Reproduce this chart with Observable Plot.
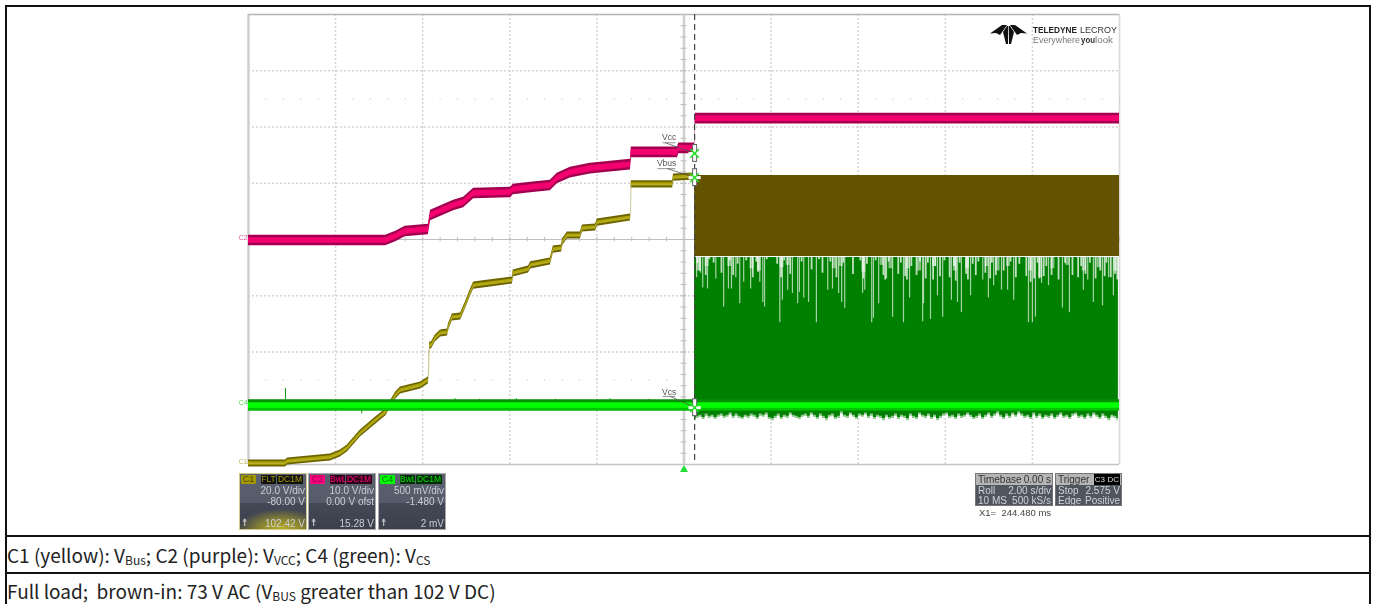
<!DOCTYPE html>
<html><head><meta charset="utf-8">
<script src="https://cdn.jsdelivr.net/npm/d3@7"></script>
<script src="https://cdn.jsdelivr.net/npm/@observablehq/plot@0.6"></script>
<style>
html,body{margin:0;padding:0;background:#fff}
#page{position:relative;width:1375px;height:604px;overflow:hidden;background:#fff}
.line{position:absolute;background:#111}
#chart{position:absolute;left:0;top:0;filter:blur(.45px)}
#chart svg{display:block;overflow:visible;background:transparent}
.cap{position:absolute;left:7px;font:19px "Noto Sans CJK SC","Noto Sans",sans-serif;color:#222;white-space:pre;line-height:20px}
.cap sub{font-size:12px;display:inline-block;line-height:12px;height:12px;vertical-align:-2px;overflow:visible}
.panel{position:absolute;box-sizing:border-box;font:10px "Liberation Sans",Arial,sans-serif;color:#c9ced6;filter:blur(.4px);overflow:hidden}
.ch{width:68px;height:57px;top:473px;background:linear-gradient(#5c6170 0,#565b6a 52%,#444957 53%,#3b404d 100%);border:1px solid #9a9a9a}
.ch .v{position:absolute;right:1px;white-space:nowrap}
.badge{position:absolute;top:1px;height:9px;line-height:9px;font-size:8.5px;text-align:center;border-radius:1px}
.tb{height:33px;top:473px;background:#50555f;border:1px solid #777;color:#cfd3d8}
.tb .h{position:absolute;left:0;right:0;top:0;height:11px;background:#b5b5b5;color:#333}
.tb span{position:absolute;white-space:nowrap;line-height:11px}
#x1{position:absolute;left:979px;top:507px;font:9.5px "Liberation Sans",Arial,sans-serif;color:#444;white-space:pre;filter:blur(.3px)}
#logo{position:absolute;left:985px;top:20px;filter:blur(.35px)}
</style></head><body><div id="page">
<div id="chart"></div>
<div id="panels"></div>
<div id="x1"></div>
<svg id="logo" width="140" height="30" viewBox="985 20 140 30">
<path fill="#111" d="M990 33.5L1002 25L1007 25L1002.5 31.5L1000 35L996 33Z"/>
<path fill="#111" d="M1027 33.5L1015 25L1010 25L1014.5 31.5L1017 35L1021 33Z"/>
<path fill="#111" d="M1003 32L1007 26L1008.2 26L1008 44L1006 44Z"/>
<path fill="#111" d="M1014 32L1010 26L1008.8 26L1009 44L1011 44Z"/>
<text x="1033" y="32.5" textLength="44" lengthAdjust="spacingAndGlyphs" font-family="Liberation Sans" font-weight="bold" font-size="9.4" fill="#222">TELEDYNE</text>
<text x="1080" y="32.5" textLength="37" lengthAdjust="spacingAndGlyphs" font-family="Liberation Sans" font-size="9.4" fill="#333">LECROY</text>
<text x="1033" y="43" textLength="47" lengthAdjust="spacingAndGlyphs" font-family="Liberation Sans" font-size="8.5" fill="#777">Everywhere</text>
<text x="1081" y="43" textLength="14" lengthAdjust="spacingAndGlyphs" font-family="Liberation Sans" font-weight="bold" font-size="8.5" fill="#333">you</text>
<text x="1095" y="43" textLength="18" lengthAdjust="spacingAndGlyphs" font-family="Liberation Sans" font-size="8.5" fill="#777">look</text>
</svg>
<div class="line" style="left:5px;top:5px;width:1365px;height:1.5px"></div>
<div class="line" style="left:5px;top:5px;width:1.5px;height:599px"></div>
<div class="line" style="left:1369px;top:5px;width:1.5px;height:599px"></div>
<div class="line" style="left:5px;top:535px;width:1365px;height:1.5px"></div>
<div class="line" style="left:5px;top:572px;width:1365px;height:1.5px"></div>
<div class="cap" style="top:545px">C1 (yellow): V<sub>Bus</sub>; C2 (purple): V<sub>VCC</sub>; C4 (green): V<sub>CS</sub></div>
<div class="cap" style="top:581px">Full load;&nbsp; brown-in: 73 V AC (V<sub>BUS</sub> greater than 102 V DC)</div>
</div>
<script>
// Time in seconds (2 s/div, 10 divisions); voltages per channel
const cursorT = 10.244;
const c1T = [0,0.85,0.90,1.88,2.11,2.27,2.57,2.92,3.15,3.38,3.49,3.95,4.13,4.16,4.20,4.29,4.41,4.57,4.59,4.68,4.87,4.91,4.98,5.10,5.17,5.56,6.06,6.08,6.43,6.48,6.93,7.00,7.19,7.21,7.32,7.62,7.67,7.97,8.01,8.77,8.79,9.74,9.76,10.24];
const c1V = [0.35,0.35,1.06,2.48,3.9,5.68,11.0,15.6,18.5,24.5,26.3,28.1,29.9,42.3,42.3,44.8,46.6,46.9,48.7,52.3,52.6,54.0,56.5,61.2,63.6,64.4,65.4,67.9,69.3,70.8,72.2,76.4,76.8,78.9,81.4,81.4,83.9,84.3,86.0,87.8,99.6,99.6,102.0,102.4];
const c2T = [0,3.15,3.38,3.60,4.13,4.18,4.71,4.94,5.17,6.02,6.08,6.48,6.93,7.09,7.39,7.85,8.77,8.79,9.85,9.88,10.24,10.26,20];
const c2V = [-0.18,-0.18,0.53,1.42,1.78,4.27,6.04,6.58,8.18,8.36,8.89,9.25,9.6,10.85,11.9,12.6,13.3,15.5,15.5,16.2,16.2,21.5,21.5];
const c4T = [0,20];
const c4V = [0.005,0.005];
const burstT = [cursorT,20];
const c1BurstMax = [102.76,102.76];
const c1BurstMin = [73.96,73.96];
const c4BurstMax = [1.32,1.32];
// Drop-outs in the top edge of the C4 burst
const spikeT = [10.29,10.38,10.43,10.54,10.73,10.91,11.02,11.09,11.19,11.28,11.37,11.53,11.74,11.81,11.85,12.20,12.26,12.38,12.49,12.61,12.65,12.75,12.86,13.04,13.30,13.41,13.55,13.62,13.69,14.10,14.15,14.31,14.35,14.47,14.65,14.79,15.04,15.18,15.48,15.50,15.66,15.82,15.94,16.14,16.28,16.37,16.58,16.86,16.99,17.11,17.29,17.43,17.57,17.91,18.00,18.07,18.21,18.37,18.69,18.85,19.17,19.27,19.40,19.61,19.75,19.86];
const spikeV = [1.14,1.18,1.05,1.04,1.13,0.88,1.04,1.04,1.14,0.91,1.10,1.04,1.10,0.92,0.88,0.74,0.94,1.03,1.00,0.91,1.01,0.96,0.92,0.74,1.03,1.04,1.00,0.92,0.87,1.00,1.03,0.74,0.78,0.91,1.13,0.79,0.74,0.96,0.75,0.91,0.77,0.98,0.79,0.94,0.92,0.83,0.98,1.12,0.96,1.07,1.03,1.03,0.94,0.74,0.74,0.79,1.09,1.07,0.87,0.83,1.03,1.12,0.92,0.89,1.14,0.98];
const shallowT = [10.31,10.36,10.50,10.58,10.68,10.86,11.05,11.13,11.23,11.43,11.58,11.66,11.70,11.90,12.14,12.23,12.30,12.44,12.70,12.93,13.10,13.18,13.36,13.50,13.66,13.88,14.05,14.12,14.20,14.40,14.58,14.62,14.70,14.92,14.98,15.08,15.12,15.22,15.34,15.42,15.55,15.60,15.72,15.77,15.88,15.98,16.10,16.20,16.24,16.33,16.48,16.52,16.63,16.70,16.76,16.92,17.03,17.07,17.16,17.34,17.50,17.62,17.70,17.86,17.96,18.04,18.12,18.16,18.26,18.32,18.44,18.60,18.75,18.92,19.05,19.12,19.22,19.32,19.45,19.56,19.66,19.70,19.80,19.90,19.95];
const shallowV = [1.27,1.20,1.16,1.30,1.27,1.18,1.29,1.16,1.26,1.29,1.14,1.28,1.19,1.30,1.26,1.14,1.29,1.17,1.28,1.21,1.30,1.18,1.28,1.14,1.27,1.17,1.29,1.13,1.26,1.29,1.16,1.12,1.28,1.17,1.27,1.15,1.12,1.24,1.16,1.28,1.13,1.27,1.12,1.24,1.15,1.29,1.14,1.24,1.11,1.27,1.17,1.12,1.26,1.16,1.28,1.18,1.13,1.27,1.16,1.20,1.28,1.14,1.26,1.15,1.10,1.13,1.27,1.13,1.15,1.24,1.16,1.12,1.27,1.16,1.14,1.24,1.17,1.27,1.13,1.20,1.15,1.27,1.14,1.17,1.12];
// Wider pale clusters right under the brown band
const patchT = [10.33,10.52,11.04,11.55,11.72,12.24,12.38,13.44,13.60,14.12,14.54,14.74,15.14,15.40,15.74,16.22,16.50,16.95,17.20,17.44,17.95,18.18,18.46,18.80,19.18,19.52,19.90];
const patchV = [1.20,1.24,1.24,1.22,1.20,1.23,1.25,1.22,1.24,1.19,1.25,1.22,1.22,1.20,1.24,1.20,1.22,1.24,1.20,1.24,1.20,1.14,1.22,1.25,1.20,1.23,1.20];
// Lower edge of the C4 burst, one reading every lowStep seconds from the cursor
const lowStep = 0.069;
const lowV = [-0.13,-0.11,-0.10,-0.12,-0.09,-0.11,-0.10,-0.12,-0.10,-0.09,-0.11,-0.10,-0.08,-0.11,-0.09,-0.11,-0.12,-0.10,-0.11,-0.09,-0.10,-0.12,-0.09,-0.10,-0.08,-0.12,-0.13,-0.11,-0.09,-0.12,-0.10,-0.11,-0.08,-0.10,-0.11,-0.12,-0.10,-0.09,-0.11,-0.08,-0.10,-0.12,-0.09,-0.11,-0.13,-0.10,-0.09,-0.12,-0.11,-0.07,-0.10,-0.11,-0.08,-0.10,-0.12,-0.09,-0.10,-0.08,-0.11,-0.09,-0.12,-0.10,-0.11,-0.13,-0.10,-0.12,-0.11,-0.09,-0.12,-0.10,-0.11,-0.13,-0.09,-0.11,-0.12,-0.08,-0.10,-0.11,-0.09,-0.12,-0.10,-0.13,-0.11,-0.09,-0.08,-0.11,-0.10,-0.12,-0.09,-0.11,-0.10,-0.08,-0.10,-0.12,-0.11,-0.09,-0.12,-0.10,-0.08,-0.11,-0.09,-0.07,-0.10,-0.12,-0.09,-0.11,-0.08,-0.10,-0.07,-0.09,-0.11,-0.10,-0.12,-0.08,-0.11,-0.09,-0.12,-0.10,-0.11,-0.09,-0.12,-0.10,-0.08,-0.11,-0.10,-0.12,-0.09,-0.08,-0.11,-0.10,-0.12,-0.09,-0.11,-0.08,-0.10,-0.12,-0.09,-0.11,-0.13,-0.10,-0.11,-0.13];
const c4GlitchT = [0.85,2.60,4.74,5.30,6.15,7.05,8.30,9.20];
const c4GlitchV = [0.155,-0.07,0.065,0.06,0.065,0.06,0.065,0.06];
// Graticule
const gridX = [2,4,6,8,12,14,16,18];
const gridY = [1,2,3,5,6,7];
const minorX = d3.range(0,20.01,0.4);
const minorY = d3.range(0,8.01,0.2);
// Annotations
const labelNames = ["Vcc","Vbus","Vcs"];
const labelT = [9.66,9.60,9.66];
const labelDiv = [5.81,5.35,1.28];
const underlineT1 = [9.51,9.39,9.51];
const underlineT2 = [9.80,9.80,9.80];
const underlineDiv = [5.72,5.26,1.21];
const leaderT = [9.57,9.62,9.69];
const cursorDiv = [5.53,5.10,1.01];
const chanMarks = ["C2","C4","C1"];
const chanMarkDiv = [4.04,1.10,0.05];
const chanMarkColors = ["#e0559a","#55dd55","#b9b35a"];

// Channel vertical settings: volts per division and centre voltage
const c1Y = v => 4 + (v - 80) / 20;
const c2Y = v => 4 + v / 10;
const c4Y = v => 4 + (v - 1.48) / 0.5;
const rows = (t, v) => t.map((d, i) => ({t: d, v: v[i]}));
const c1 = rows(c1T, c1V), c2 = rows(c2T, c2V), c4 = rows(c4T, c4V);
const low = lowV.map((v, i) => ({t: Math.min(20, cursorT + i * lowStep), v}));
const band = (data, f, h, fill) => Plot.areaY(data, {x: "t", y1: d => f(d.v - h), y2: d => f(d.v + h), fill});
const idx = labelNames.map((_, i) => i);
const top4 = c4Y(c4BurstMax[0]);

const plot = Plot.plot({
  width: 1375, height: 480,
  marginLeft: 248, marginRight: 256, marginTop: 14, marginBottom: 16,
  x: {domain: [0, 20], axis: null},
  y: {domain: [0, 8], axis: null},
  marks: [
    Plot.ruleX(gridX, {stroke: "#d4d4d4", strokeWidth: 1.5, strokeDasharray: "2,2"}),
    Plot.ruleY(gridY, {stroke: "#d4d4d4", strokeWidth: 1.5, strokeDasharray: "2,2"}),
    Plot.ruleX([0], {stroke: "#cfcfcf", strokeWidth: 2.5}),
    Plot.ruleX([20], {stroke: "#d8d8d8", strokeWidth: 1.5}),
    Plot.ruleY([0], {stroke: "#c4c4c4", strokeWidth: 1.5}),
    Plot.ruleY([8], {stroke: "#b4b4b4", strokeWidth: 1.5}),
    Plot.dot(minorX, {x: d => d, y: () => 6.5, r: 0.6, fill: "#c4c4c4"}),
    Plot.dot(minorX, {x: d => d, y: () => 1.5, r: 0.6, fill: "#c4c4c4"}),
    Plot.ruleY([4], {stroke: "#bdbdbd", strokeWidth: 1}),
    Plot.ruleX(minorX, {x: d => d, y1: () => 3.96, y2: () => 4.04, stroke: "#bdbdbd"}),
    Plot.ruleX([10], {stroke: "#d0d0d0", strokeWidth: 2.5}),
    Plot.ruleY(minorY, {y: d => d, x1: () => 9.93, x2: () => 10.07, stroke: "#bdbdbd"}),
    Plot.dot([10], {x: d => d, y: () => -0.09, symbol: "triangle", r: 3, fill: "#22dd33"}),
    // C4 burst
    Plot.areaY(low, {x: "t", y1: d => c4Y(d.v), y2: () => top4, fill: "#8fc98f", curve: "step"}),
    Plot.areaY(low, {x: "t", y1: d => c4Y(d.v + 0.018), y2: () => top4, fill: "#008000", curve: "step"}),
    Plot.ruleX(patchT, {x: d => d, y1: () => top4, y2: (d, i) => c4Y(patchV[i]), stroke: "#fff", strokeWidth: 4, strokeOpacity: 0.5}),
    Plot.ruleX(shallowT, {x: d => d, y1: () => top4, y2: (d, i) => c4Y(shallowV[i]), stroke: "#fff", strokeWidth: 1.8, strokeOpacity: 0.75}),
    Plot.ruleX(spikeT, {x: d => d, y1: () => top4, y2: (d, i) => c4Y(spikeV[i]), stroke: "#fff", strokeWidth: 1.2, strokeOpacity: 0.65}),
    // C2
    band(c2, c2Y, 0.95, "#a3004f"),
    band(c2, c2Y, 0.5, "#f4006f"),
    // C1
    band(c1, c1Y, 1.25, "#6d6400"),
    band(c1, c1Y, 0.6, "#aea400"),
    Plot.line(c1, {x: "t", y: d => c1Y(d.v), stroke: "#c2bd7a", strokeWidth: 0.9, strokeOpacity: 0.5}),
    Plot.areaY(burstT.map((t, i) => ({t, hi: c1BurstMax[i], lo: c1BurstMin[i]})), {x: "t", y1: d => c1Y(d.lo), y2: d => c1Y(d.hi), fill: "#635300"}),
    // C4 trace
    Plot.ruleX(c4GlitchT, {x: d => d, y1: () => c4Y(0), y2: (d, i) => c4Y(c4GlitchV[i]), stroke: "#109a10", strokeWidth: 1}),
    band(c4.slice(), c4Y, 0.05, "#009000"),
    Plot.areaY(c4, {x: "t", y1: () => c4Y(-0.045), y2: () => c4Y(-0.01), fill: "#00c400"}),
    band(c4, c4Y, 0.024, "#00ff00"),
    // Cursor and its markers
    Plot.ruleX([cursorT], {stroke: "#444", strokeWidth: 1.2, strokeDasharray: "6,4"}),
    Plot.link(idx, {x1: i => underlineT1[i], x2: i => underlineT2[i], y1: i => underlineDiv[i], y2: i => underlineDiv[i], stroke: "#777", strokeWidth: 0.8}),
    Plot.link(idx, {x1: i => leaderT[i], x2: () => cursorT, y1: i => underlineDiv[i], y2: i => cursorDiv[i], stroke: "#555", strokeWidth: 0.8}),
    Plot.text(idx, {x: i => labelT[i], y: i => labelDiv[i], text: i => labelNames[i], fill: "#555", fontSize: 8.5, fontFamily: "Liberation Sans"}),
    Plot.ruleX(idx, {x: () => cursorT, y1: i => cursorDiv[i] - 0.16, y2: i => cursorDiv[i] + 0.16, stroke: "#666", strokeWidth: 5}),
    Plot.ruleX(idx, {x: () => cursorT, y1: i => cursorDiv[i] - 0.14, y2: i => cursorDiv[i] + 0.14, stroke: "#fff", strokeWidth: 3}),
    Plot.link(idx, {x1: () => cursorT - 0.14, x2: () => cursorT + 0.14, y1: i => cursorDiv[i], y2: i => cursorDiv[i], stroke: "#fff", strokeWidth: 3}),
    Plot.dot(idx, {x: () => cursorT, y: i => cursorDiv[i], symbol: "times", r: 4, stroke: "#22e022", strokeWidth: 1.5}),
    Plot.text(idx, {x: () => -0.12, y: i => chanMarkDiv[i], text: i => chanMarks[i], fill: i => chanMarkColors[i], fontSize: 7, fontFamily: "Liberation Sans"})
  ]
});
document.getElementById("chart").append(plot);

// Readout panels
const channels = [
  {left: 239, name: "C1", b: ["FLT","DC1M"], l1: "20.0 V/div", l2: "-80.00 V", val: "102.42 V", tag: "#a49a00", tagText: "#4a4500", bb: "#111", bc: "#a49a00", border: "#cfc98a", glow: true},
  {left: 308, name: "C2", b: ["BwL","DC1M"], l1: "10.0 V/div", l2: "0.00 V ofst", val: "15.28 V", tag: "#ff0080", tagText: "#8a0045", bb: "#2b0516", bc: "#ff0080", border: "#a8a8a8"},
  {left: 378, name: "C4", b: ["BwL","DC1M"], l1: "500 mV/div", l2: "-1.480 V", val: "2 mV", tag: "#00ff00", tagText: "#007000", bb: "#032b08", bc: "#00e000", border: "#a8a8a8"}
];
const panels = document.getElementById("panels");
for (const c of channels) {
  const p = document.createElement("div");
  p.className = "panel ch";
  p.style.left = c.left + "px";
  p.style.borderColor = c.border;
  if (c.glow) p.style.background = "radial-gradient(ellipse 44px 20px at 62% 100%,#b9ae20 0,#8d8730 45%,rgba(90,90,80,0) 100%),linear-gradient(#5c6170 0,#565b6a 52%,#444957 53%,#3b404d 100%)";
  p.innerHTML = `<div class="badge" style="left:1px;width:15px;background:${c.tag};color:${c.tagText};font-size:9px">${c.name}</div>
  <div class="badge" style="left:21px;width:15px;background:${c.bb};color:${c.bc}">${c.b[0]}</div>
  <div class="badge" style="left:37px;width:26px;background:${c.bb};color:${c.bc}">${c.b[1]}</div>
  <div class="v" style="top:11px">${c.l1}</div><div class="v" style="top:22px">${c.l2}</div>
  <div class="v" style="top:44px">${c.val}</div>
  <div class="v" style="left:2px;right:auto;top:43px;color:#ddd">&#9768;</div>`;
  panels.append(p);
}
const tbase = {left: 975, width: 78, h: ["Timebase","0.00 s"], r1: ["Roll","2.00 s/div"], r2: ["10 MS","500 kS/s"]};
const trig = {left: 1055, width: 67, h: ["Trigger",""], r1: ["Stop","2.575 V"], r2: ["Edge","Positive"]};
for (const t of [tbase, trig]) {
  const p = document.createElement("div");
  p.className = "panel tb";
  p.style.left = t.left + "px"; p.style.width = t.width + "px";
  p.innerHTML = `<div class="h"><span style="left:2px">${t.h[0]}</span><span style="right:1px">${t.h[1]}</span>${t === trig ? '<span style="right:15px;background:#000;color:#ddd;font-size:8px;padding:0 1px">C3</span><span style="right:1px;background:#000;color:#ddd;font-size:8px;padding:0 1px">DC</span>' : ""}</div>
  <span style="left:2px;top:11px">${t.r1[0]}</span><span style="right:1px;top:11px">${t.r1[1]}</span>
  <span style="left:2px;top:21px">${t.r2[0]}</span><span style="right:1px;top:21px">${t.r2[1]}</span>`;
  panels.append(p);
}
document.getElementById("x1").textContent = "X1=  244.480 ms";
</script>
</body></html>
